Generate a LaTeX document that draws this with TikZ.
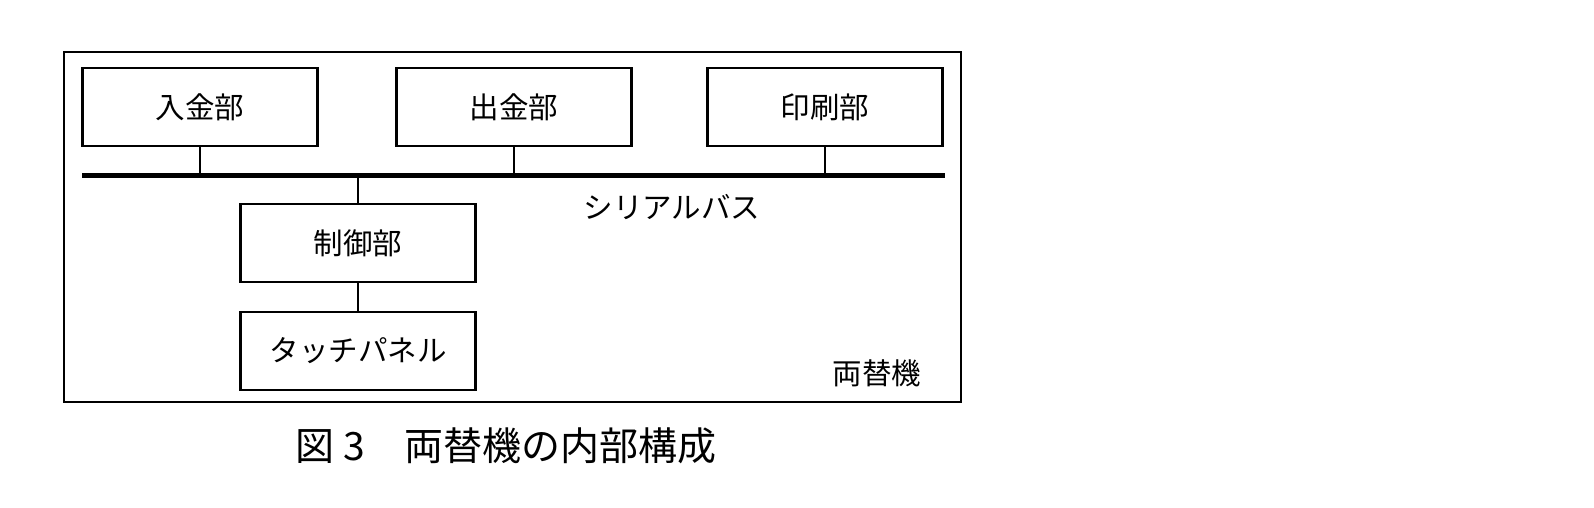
\documentclass[tikz,border=0pt]{standalone}
\usepackage{fontspec}
\setmainfont{Noto Sans CJK JP}
\usepackage{xcolor}

\tikzset{
  unit/.style={draw, line width=2.2pt, minimum width=235pt, minimum height=78pt, inner sep=0pt,
    font=\fontsize{29.5pt}{29.5pt}\selectfont},
  link/.style={line width=1.8pt},
  bus/.style={line width=5pt},
}

\begin{document}
\begin{tikzpicture}[x=1pt, y=-1pt]
            \useasboundingbox (0,0) rectangle (1594,508);
            \draw[line width=2.2pt] (64,52) rectangle (961,402);
            \node[unit] (deposit) at (200,107) {入金部};
            \node[unit] (dispense) at (514,107) {出金部};
            \node[unit] (printer) at (825,107) {印刷部};
            \node[unit] (control) at (358,243) {制御部};
            \node[unit] (touch) at (358,351) {タッチパネル};
            \coordinate (busL) at (82,175);
            \coordinate (busR) at (945,175);
            \draw[bus] (busL) -- (busR);
            \draw[link] (deposit.south) -- (deposit.south |- busL);
            \draw[link] (dispense.south) -- (dispense.south |- busL);
            \draw[link] (printer.south) -- (printer.south |- busL);
            \draw[link] (control.north |- busL) -- (control.north);
            \draw[link] (control.south) -- (touch.north);
            \node[font=\fontsize{29.5pt}{29.5pt}\selectfont] (buslabel) at (672,207) {シリアルバス};
            \node[font=\fontsize{29.5pt}{29.5pt}\selectfont] (machine) at (877,373) {両替機};
            \node[font=\fontsize{39pt}{39pt}\selectfont] (caption) at (506,446) {図 3　両替機の内部構成};
        \end{tikzpicture}
\end{document}
